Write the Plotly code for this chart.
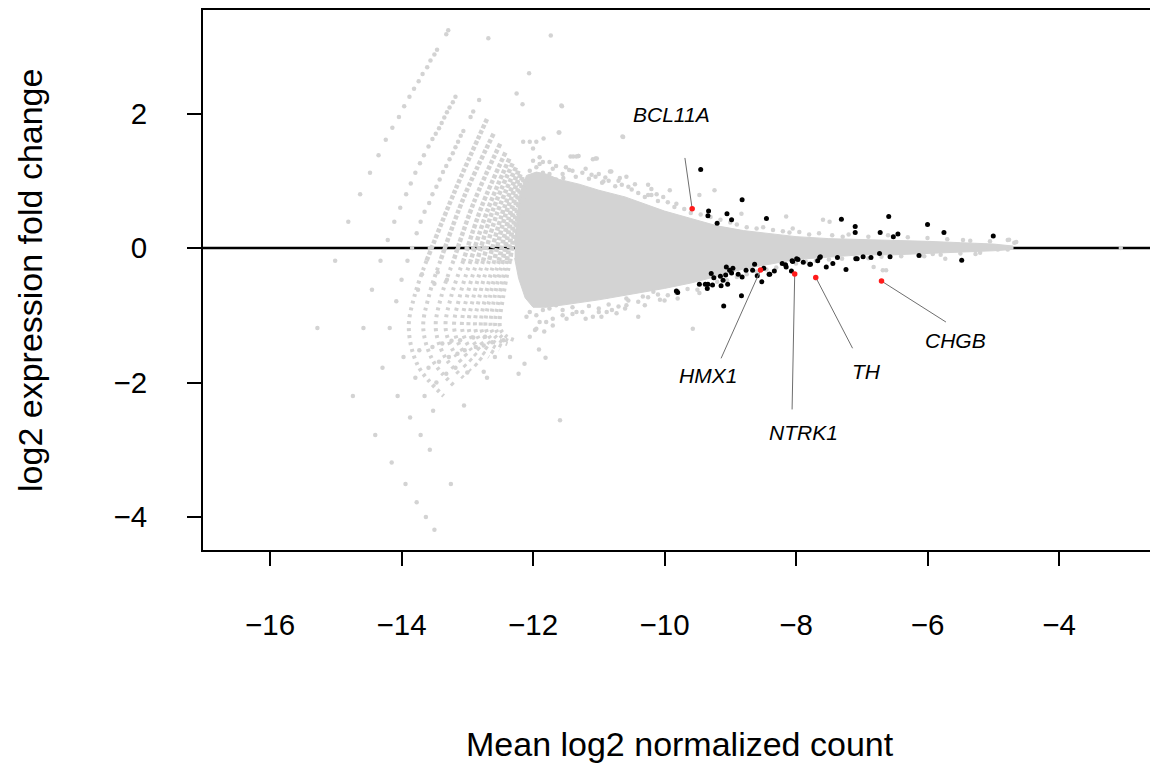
import plotly.graph_objects as go

GRAY = "#d3d3d3"
FONT = "Liberation Sans, Arial, Helvetica, sans-serif"

# axes
x_range = [-17.02, -2.616]
y_range = [-4.49, 3.54]
x_ticks = [-16, -14, -12, -10, -8, -6, -4]
y_ticks = [-4, -2, 0, 2]
x_title = "Mean log2 normalized count"
y_title = "log2 expression fold change"

# dense body of the cloud (upper edge left->right, lower edge right->left)
core_upper_x = [-12.28, -12.2, -12.1, -11.95, -11.8, -11.6, -11.3, -11.0, -10.6,
                -10.3, -10.0, -9.6, -9.2, -8.8, -8.4, -8.0, -7.5, -7.0, -6.5, -6.0, -5.5,
                -5.0, -4.7]
core_upper_y = [0.10, 0.80, 1.08, 1.13, 1.10, 1.02, 0.95, 0.86, 0.76, 0.65, 0.55, 0.44,
                0.33, 0.26, 0.21, 0.17, 0.14, 0.13, 0.12, 0.10, 0.08, 0.06, 0.03]
core_lower_x = [-4.7, -5.0, -5.5, -6.0, -6.5, -7.0, -7.5, -8.0, -8.4, -8.8, -9.2, -9.6, -10.0,
                -10.5, -11.0, -11.5, -11.8, -12.0, -12.12, -12.22, -12.28]
core_lower_y = [-0.02, -0.04, -0.06, -0.08, -0.10, -0.10, -0.13, -0.17, -0.24, -0.31, -0.42,
                -0.52, -0.60, -0.69, -0.77, -0.84, -0.88, -0.88, -0.74, -0.45, -0.15]

# low-count fan: outer arcs of individual genes
arc_a_x = [-13.29, -13.32, -13.46, -13.50, -13.56, -13.61, -13.68, -13.74, -13.81, -13.88,
           -13.96, -14.04, -14.14, -14.24, -14.35, -14.48, -14.63, -14.81, -15.01, -15.28,
           -14.74, -14.40, -14.15, -13.94, -13.77, -13.63, -13.50]
arc_a_y = [3.24, 3.18, 2.95, 2.88, 2.79, 2.69, 2.59, 2.48, 2.37, 2.25, 2.11, 1.95, 1.79, 1.61,
           1.38, 1.12, 0.80, 0.39, -0.19, -1.19, -2.20, -2.78, -3.19, -3.51, -3.78, -4.00,
           -4.19]
arc_b_x = [-13.18, -13.22, -13.27, -13.31, -13.35, -13.39, -13.43, -13.48, -13.53, -13.59,
           -13.66, -13.72, -13.79, -13.86, -13.93, -14.02, -14.11, -14.21, -14.32, -14.45,
           -14.58, -14.29, -14.06, -13.87, -13.71, -13.57]
arc_b_y = [2.25, 2.17, 2.09, 2.02, 1.94, 1.86, 1.78, 1.70, 1.62, 1.51, 1.38, 1.26, 1.12, 0.96,
           0.80, 0.60, 0.39, 0.12, -0.19, -0.62, -1.19, -1.78, -2.20, -2.52, -2.78, -3.00]
arc_c_x = [-12.91, -12.95, -13.06, -13.10, -13.14, -13.18, -13.22, -13.27, -13.32, -13.37,
           -13.42, -13.47, -13.53, -13.58, -13.65, -13.71, -13.77, -13.91, -14.00, -14.08,
           -14.18, -13.97, -13.79, -13.65, -13.52]
arc_c_y = [2.03, 1.95, 1.74, 1.67, 1.58, 1.50, 1.41, 1.32, 1.22, 1.13, 1.02, 0.91, 0.80, 0.67,
           0.54, 0.39, 0.22, -0.19, -0.47, -0.79, -1.19, -1.62, -1.93, -2.20, -2.42]

# inner arcs of the fan, too dense to separate: traced by vertices
# upper halves (from the top down to the -0.19 row)
inner_up_x = [
    [-12.70, -13.18, -13.62],
    [-12.60, -13.05, -13.41],
    [-12.50, -12.90, -13.21],
    [-12.42, -12.78, -13.06],
    [-12.36, -12.69, -12.95],
    [-12.31, -12.62, -12.85],
    [-12.26, -12.55, -12.76],
    [-12.22, -12.48, -12.67],
    [-12.19, -12.43, -12.59],
    [-12.16, -12.37, -12.52],
    [-12.13, -12.33, -12.46],
    [-12.10, -12.28, -12.40],
    [-12.08, -12.25, -12.35],
]
inner_up_y = [
    [1.92, 0.87, -0.19],
    [1.70, 0.76, -0.19],
    [1.55, 0.68, -0.19],
    [1.42, 0.62, -0.19],
    [1.33, 0.57, -0.19],
    [1.26, 0.54, -0.19],
    [1.20, 0.51, -0.19],
    [1.15, 0.48, -0.19],
    [1.10, 0.46, -0.19],
    [1.06, 0.44, -0.19],
    [1.03, 0.42, -0.19],
    [1.00, 0.41, -0.19],
    [0.97, 0.39, -0.19],
]
# lower halves (from the -0.19 row round to the bottom end)
inner_low_x = [
    [-13.62, -13.80, -13.89, -13.75, -13.36],
    [-13.41, -13.58, -13.67, -13.52, -13.20],
    [-13.21, -13.39, -13.48, -13.34, -13.06],
    [-13.06, -13.24, -13.33, -13.19, -12.95],
    [-12.95, -13.11, -13.20, -13.07, -12.85],
    [-12.85, -13.00, -13.08, -12.96, -12.76],
    [-12.76, -12.90, -12.98, -12.86, -12.67],
    [-12.67, -12.81, -12.88, -12.77, -12.59],
    [-12.59, -12.72, -12.79, -12.68, -12.51],
    [-12.52, -12.65, -12.72, -12.61, -12.45],
    [-12.46, -12.58, -12.64, -12.54, -12.39],
    [-12.40, -12.51, -12.57, -12.47, -12.33],
    [-12.35, -12.45, -12.50, -12.41, -12.28],
]
inner_low_y = [
    [-0.19, -0.70, -1.19, -1.75, -2.20],
    [-0.19, -0.70, -1.19, -1.68, -2.05],
    [-0.19, -0.70, -1.19, -1.62, -1.93],
    [-0.19, -0.70, -1.19, -1.57, -1.83],
    [-0.19, -0.70, -1.19, -1.53, -1.75],
    [-0.19, -0.70, -1.19, -1.49, -1.68],
    [-0.19, -0.70, -1.19, -1.46, -1.62],
    [-0.19, -0.70, -1.19, -1.43, -1.56],
    [-0.19, -0.70, -1.19, -1.40, -1.51],
    [-0.19, -0.70, -1.19, -1.38, -1.47],
    [-0.19, -0.70, -1.19, -1.35, -1.43],
    [-0.19, -0.70, -1.19, -1.33, -1.40],
    [-0.19, -0.70, -1.19, -1.31, -1.37],
]

# remaining non-significant genes
gray_x = [
    -13.84, -13.57, -13.34, -13.14, -13.01, -12.91, -12.83, -12.75,
    -13.05, -13.75, -13.69, -13.50, -13.45, -13.31,
    -13.73, -13.53, -13.38, -13.24, -13.11, -12.91, -12.73,
    -13.43, -13.28, -13.15, -13.04, -12.87, -12.75, -12.62, -12.45,
    -13.59, -13.47, -13.32, -13.18, -13.00, -12.75, -12.70, -12.58, -12.35, -12.22, -12.13,
    -11.91, -11.81, -12.05, -11.97, -11.83, -13.25, -11.59,
    -12.68, -11.73, -12.06, -12.25, -12.16, -12.82, -11.56, -11.61, -11.43, -11.31, -11.05,
    -11.57, -11.60, -12.15, -12.05, -11.95, -11.84, -12.00, -10.64, -11.39, -11.31, -11.03,
    -11.85, -11.54, -11.11, -10.83, -10.68, -10.55, -10.25, -10.12, -9.92, -9.82, -9.47,
    -10.63, -11.34, -11.09, -10.81, -10.58, -10.93, -10.25, -10.02, -9.24, -8.83, -8.15,
    -8.05, -7.59, -7.29, -9.82, -10.07, -10.33, -10.58, -10.88, -11.09, -11.34, -11.49,
    -10.40, -9.47, -8.68, -9.57, -10.88, -10.58, -10.17, -10.96, -10.73, -6.82, -6.63,
    -5.46, -5.21, -5.11, -4.93, -4.78, -4.78, -4.68, -5.27, -5.73, -5.92, -6.05, -6.68,
    -7.49, -7.70, -3.06, -4.76, -4.65,
    -11.55, -11.45, -11.35, -11.25, -11.15, -11.05, -10.95, -10.85, -10.75, -10.65, -10.5,
    -10.4, -10.3, -10.2, -10.1, -9.95, -9.85, -9.7, -9.6, -9.45, -9.3, -9.15, -9.0, -8.9,
    -8.75, -8.6, -8.5, -8.35, -8.2, -8.1, -7.95, -7.8, -7.65, -7.45, -7.2, -6.9, -6.6,
    -6.3, -6.0, -5.7, -5.35, -5.05,
    -11.55, -11.4, -11.25, -11.15, -11.0, -10.85, -10.7, -10.55, -10.4, -10.25, -10.1,
    -9.95, -9.8, -9.65, -9.5, -9.35, -9.2, -9.05, -8.9, -8.75, -8.6, -8.45, -8.3, -8.15,
    -8.0, -7.85, -7.7, -7.5, -7.3, -7.1, -6.9, -6.7, -6.4, -6.1, -5.8, -5.5, -5.2,
    -12.05, -11.95, -11.85, -11.75, -11.65, -12.0, -11.9, -11.7,
    -12.05, -11.95, -11.85, -11.75, -11.65, -11.9, -11.7, -12.1,
    -11.9, -11.75, -11.65, -11.5, -11.4, -11.2, -11.0, -10.9, -10.7, -10.45, -10.2,
    -11.95, -11.8, -11.7, -11.55, -11.4, -11.2, -11.0, -10.8, -10.6, -10.3, -10.0, -9.8,
]
gray_y = [
    0.0, 0.0, 0.0, 0.0, 0.0, 0.0, 0.0, 0.0,
    -2.34, -0.62, -0.39, -0.53, -0.36, -0.47,
    -1.52, -1.47, -1.42, -1.38, -1.37, -1.33, -1.32,
    -1.69, -1.62, -1.57, -1.52, -1.47, -1.45, -1.40, -1.37,
    -1.78, -2.00, -1.87, -1.78, -1.85, -1.84, -1.93, -1.62, -1.62, -1.87, -1.72,
    -1.51, -1.63, -1.32, -1.22, -1.24, -3.51, -2.56,
    3.12, 3.16, 2.60, 2.30, 2.14, 2.20, 2.11, 1.72, 1.36, 1.37, 1.33,
    2.12, 1.72, 1.58, 1.58, 1.58, 1.63, 1.48, 1.66, 1.36, 1.37, 1.33,
    1.28, 1.04, 1.09, 1.14, 1.04, 0.91, 0.94, 0.80, 0.86, 0.66, 0.79,
    1.65, 1.36, 1.32, 1.14, 1.06, 0.99, 0.79, 0.76, 0.86, 0.51, 0.47,
    0.29, 0.42, 0.17, -0.67, -0.77, -0.72, -0.85, -0.95, -1.02, -0.95, -1.05,
    -1.02, -0.67, -0.30, -1.20, -0.72, -0.75, -0.65, -1.02, -0.97, -0.28, -0.33,
    0.12, 0.01, 0.03, -0.02, 0.12, -0.02, 0.08, -0.09, -0.16, -0.09, -0.12, -0.33,
    0.39, -0.45, 0.0, 0.125, 0.09,
    1.10, 1.16, 1.06, 1.12, 1.03, 1.06, 0.97, 1.0, 0.92, 0.94, 0.87,
    0.82, 0.76, 0.79, 0.70, 0.68, 0.61, 0.58, 0.52, 0.50, 0.46, 0.42, 0.38, 0.35,
    0.31, 0.29, 0.31, 0.27, 0.25, 0.23, 0.24, 0.2, 0.22, 0.19, 0.2, 0.17, 0.19,
    0.16, 0.15, 0.13, 0.11, 0.1,
    -0.92, -0.88, -0.95, -0.86, -0.90, -0.84, -0.87, -0.78, -0.80, -0.73, -0.69,
    -0.70, -0.64, -0.61, -0.62, -0.55, -0.50, -0.48, -0.43, -0.39, -0.35, -0.32, -0.29, -0.26,
    -0.23, -0.2, -0.19, -0.17, -0.16, -0.14, -0.15, -0.13, -0.12, -0.11, -0.1, -0.08, -0.07,
    1.15, 1.2, 1.12, 1.1, 1.02, 1.3, 1.25, 1.18,
    -0.95, -1.0, -0.92, -0.9, -0.85, -1.1, -1.05, -1.02,
    1.35, 1.28, 1.22, 1.20, 1.15, 1.18, 1.10, 1.05, 1.00, 0.95, 0.88,
    -1.20, -1.10, -1.15, -1.00, -0.98, -1.05, -0.95, -0.92, -0.90, -0.85, -0.78, -0.75,
]

# significant genes
sig_x = [
    -9.45, -8.82, -9.33, -9.34, -9.20, -9.05, -8.98, -8.45, -7.31, -7.10, -7.10, -7.09,
    -7.24, -7.37, -7.44, -7.54, -7.64, -7.67, -7.79, -7.89, -7.99, -8.06, -8.07, -8.21,
    -8.15, -8.33, -8.41, -8.52, -8.63, -8.66, -8.59, -8.76, -8.82, -8.83, -8.88, -8.96,
    -9.01, -9.07, -9.11, -9.15, -9.06, -8.98, -9.25, -9.29, -9.14, -9.04, -9.27, -9.34,
    -9.38, -9.47, -9.35, -9.82, -9.80, -9.10, -6.72, -6.59, -6.52, -6.45, -6.00, -5.75,
    -5.00, -7.78, -7.63, -7.07, -6.98, -6.86, -6.73, -6.57, -6.13, -5.48, -8.49, -8.40,
    -8.16, -8.05, -7.97,
]
sig_y = [
    1.17, 0.72, 0.55, 0.48, 0.37, 0.51, 0.42, 0.44, 0.43, 0.32, 0.23, -0.16,
    -0.32, -0.14, -0.23, -0.28, -0.14, -0.19, -0.24, -0.21, -0.16, -0.19, -0.34, -0.23,
    -0.28, -0.34, -0.39, -0.50, -0.24, -0.33, -0.41, -0.33, -0.43, -0.71, -0.39, -0.30,
    -0.33, -0.40, -0.48, -0.42, -0.28, -0.37, -0.44, -0.38, -0.56, -0.54, -0.55, -0.54,
    -0.54, -0.54, -0.60, -0.64, -0.66, -0.86, 0.23, 0.47, 0.17, 0.21, 0.35, 0.23,
    0.18, -0.24, -0.13, -0.16, -0.13, -0.14, -0.08, -0.13, -0.11, -0.18, -0.30, -0.39,
    -0.25, -0.20, -0.17,
]

# highlighted genes and their labels
gene_names = ["BCL11A", "HMX1", "NTRK1", "TH", "CHGB"]
gene_x = [-9.58, -8.54, -8.02, -7.70, -6.70]
gene_y = [0.585, -0.327, -0.387, -0.436, -0.491]
label_x = [-9.89, -9.34, -7.89, -6.935, -5.58]
label_y = [1.98, -1.90, -2.75, -1.84, -1.37]
leader_x = [-9.69, -9.14, -8.06, -7.14, -5.72]
leader_y = [1.34, -1.64, -2.40, -1.49, -1.10]

fig = go.Figure()

# reference line at zero fold change, under the points
fig.add_hline(y=0, line=dict(color="black", width=2.5), layer="below")

fig.add_trace(go.Scatter(
    x=core_upper_x + core_lower_x, y=core_upper_y + core_lower_y,
    mode="lines", fill="toself", fillcolor=GRAY,
    line=dict(color=GRAY, width=1), hoverinfo="skip", showlegend=False))

for xs, ys in zip(inner_up_x, inner_up_y):
    fig.add_trace(go.Scatter(
        x=xs, y=ys, mode="lines",
        line=dict(color=GRAY, width=4.5, dash="4px,2px", shape="spline"),
        hoverinfo="skip", showlegend=False))
for xs, ys in zip(inner_low_x, inner_low_y):
    fig.add_trace(go.Scatter(
        x=xs, y=ys, mode="lines",
        line=dict(color=GRAY, width=4, dash="3px,4px", shape="spline"),
        hoverinfo="skip", showlegend=False))

for xs, ys in [(arc_a_x, arc_a_y), (arc_b_x, arc_b_y), (arc_c_x, arc_c_y), (gray_x, gray_y)]:
    fig.add_trace(go.Scatter(
        x=xs, y=ys, mode="markers", marker=dict(color=GRAY, size=4.5, line=dict(width=0)),
        hoverinfo="skip", showlegend=False))

fig.add_trace(go.Scatter(
    x=sig_x, y=sig_y, mode="markers",
    marker=dict(color="black", size=5, line=dict(width=0)), showlegend=False))

for i in range(len(gene_names)):
    fig.add_trace(go.Scatter(
        x=[leader_x[i], gene_x[i]], y=[leader_y[i], gene_y[i]], mode="lines",
        line=dict(color="#6e6e6e", width=1), hoverinfo="skip", showlegend=False))

fig.add_trace(go.Scatter(
    x=gene_x, y=gene_y, mode="markers", text=gene_names,
    marker=dict(color="#ff1a1a", size=5.5, line=dict(width=0)), showlegend=False))

for name, lx, ly in zip(gene_names, label_x, label_y):
    fig.add_annotation(x=lx, y=ly, text="<i>%s</i>" % name, showarrow=False,
                       xanchor="center", yanchor="middle",
                       font=dict(family=FONT, size=21, color="black"))

fig.add_annotation(x=0.5037, y=-0.36, xref="paper", yref="paper", text=x_title,
                   xanchor="center", yanchor="middle",
                   showarrow=False, font=dict(family=FONT, size=34, color="black"))
fig.add_annotation(x=-0.1827, y=0.5, xref="paper", yref="paper", text=y_title, textangle=-90,
                   xanchor="center", yanchor="middle",
                   showarrow=False, font=dict(family=FONT, size=34, color="black"))

fig.update_layout(
    width=1150, height=767,
    margin=dict(l=203, r=0, t=10, b=217),
    paper_bgcolor="white", plot_bgcolor="white",
    font=dict(family=FONT, size=29.5, color="black"),
    xaxis=dict(range=x_range, tickvals=x_ticks,
               ticktext=[("\u2212%d" % -v) if v < 0 else str(v) for v in x_ticks],
               showline=True, mirror=True, linecolor="black", linewidth=2,
               ticks="outside", ticklen=14, tickwidth=2, tickcolor="black",
               ticklabelstandoff=34, showgrid=False, zeroline=False),
    yaxis=dict(range=y_range, tickvals=y_ticks,
               ticktext=[("\u2212%d" % -v) if v < 0 else str(v) for v in y_ticks],
               showline=True, mirror=False, linecolor="black", linewidth=2,
               ticks="outside", ticklen=14, tickwidth=2, tickcolor="black",
               ticklabelstandoff=34, showgrid=False, zeroline=False),
)

fig.write_html("out.html")
